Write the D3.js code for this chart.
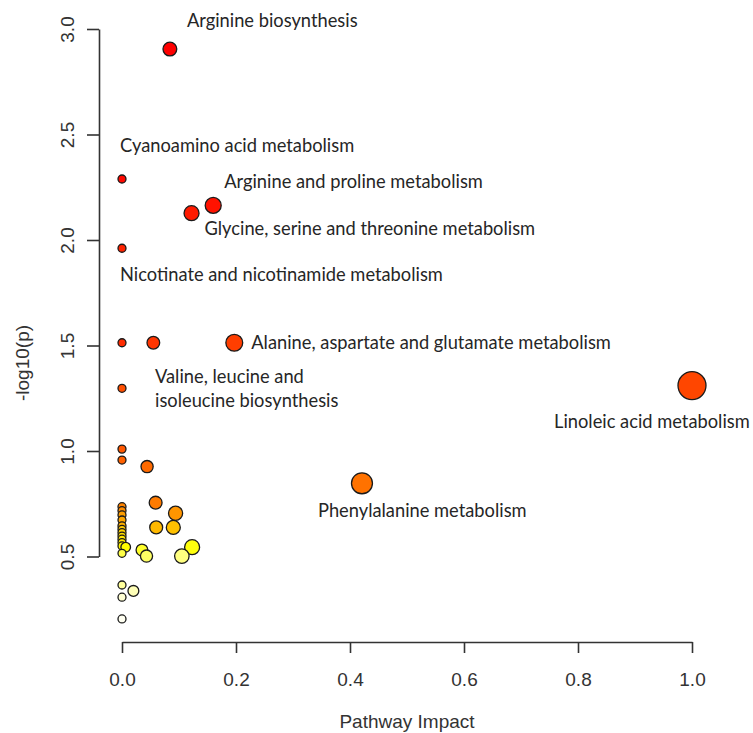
<!DOCTYPE html>
<html>
<head>
<meta charset="utf-8">
<script src="https://cdn.jsdelivr.net/npm/d3@7"></script>
<style>
  body { margin: 0; background: #fff; }
  svg { display: block; }
</style>
</head>
<body>
<div id="chart"></div>
<script>
// pathway impact vs -log10(p), one entry per pathway
var pathway = [
  "Arginine biosynthesis", "Cyanoamino acid metabolism", "Arginine and proline metabolism",
  "Glycine, serine and threonine metabolism", "Nicotinate and nicotinamide metabolism", "",
  "", "Alanine, aspartate and glutamate metabolism", "Linoleic acid metabolism",
  "Valine, leucine and isoleucine biosynthesis", "", "", "", "Phenylalanine metabolism",
  "", "", "", "", "", "", "", "", "", "", "", "", "", "", "", "", "", "", "", "", "",
  "", "", "", ""
];
var impact = [
  0.084, 0, 0.160, 0.122, 0, 0, 0.055, 0.197, 1.0, 0,
  0, 0, 0.044, 0.421, 0.059, 0, 0, 0.094, 0, 0,
  0, 0.060, 0.090, 0, 0, 0, 0, 0, 0, 0.0065,
  0.123, 0.035, 0, 0.043, 0.105, 0, 0.020, 0, 0
];
var negLogP = [
  2.905, 2.289, 2.164, 2.127, 1.961, 1.513, 1.513, 1.513, 1.31, 1.297,
  1.009, 0.957, 0.926, 0.847, 0.755, 0.736, 0.717, 0.705, 0.697, 0.673,
  0.645, 0.638, 0.638, 0.629, 0.613, 0.597, 0.582, 0.566, 0.550, 0.544,
  0.544, 0.531, 0.515, 0.502, 0.502, 0.365, 0.337, 0.307, 0.204
];
var xTicks = [0, 0.2, 0.4, 0.6, 0.8, 1.0];
var yTicks = [0.5, 1.0, 1.5, 2.0, 2.5, 3.0];

// where each label sits relative to its point (pixels)
var labelOffsets = {
  "Arginine biosynthesis": { dx: 17, dy: -22 },
  "Cyanoamino acid metabolism": { dx: -2, dy: -27 },
  "Arginine and proline metabolism": { dx: 11, dy: -17 },
  "Glycine, serine and threonine metabolism": { dx: 13, dy: 22 },
  "Nicotinate and nicotinamide metabolism": { dx: -2, dy: 33 },
  "Alanine, aspartate and glutamate metabolism": { dx: 17, dy: 6 },
  "Linoleic acid metabolism": { dx: -138, dy: 42 },
  "Valine, leucine and isoleucine biosynthesis": { dx: 33, dy: -5, lines: ["Valine, leucine and", "isoleucine biosynthesis"] },
  "Phenylalanine metabolism": { dx: -44, dy: 34 }
};

var width = 753, height = 733;

var svg = d3.select("#chart").append("svg")
  .attr("width", width)
  .attr("height", height);

var x = d3.scaleLinear().domain([0, 1]).range([122, 692]);
var y = d3.scaleLinear().domain([0.5, 3.0]).range([556.5, 29]);
var r = d3.scaleSqrt().domain([0, 1]).range([4, 14]);

// R heat.colors(n), assigned by rank of -log10(p)
function heatColors(n) {
  var k = Math.floor(n / 4), j = n - k, cols = [];
  for (var i = 0; i < j; i++) {
    cols.push(d3.hsl(60 * i / (j - 1), 1, 0.5).formatHex());
  }
  for (var m = 0; m < k; m++) {
    var s = (1 - 1 / (2 * k)) - m * ((1 - 1 / k) / (k - 1));
    cols.push(d3.rgb(255, 255, Math.round(255 * (1 - s))).formatHex());
  }
  return cols;
}

var points = negLogP.map(function (v, i) {
  return { name: pathway[i], impact: impact[i], p: v };
});
var ranked = points.slice().sort(function (a, b) { return b.p - a.p; });
var cols = heatColors(points.length);
ranked.forEach(function (d, i) { d.color = cols[i]; });

// axes
var xAxis = svg.append("g")
  .attr("transform", "translate(0,642)")
  .call(d3.axisBottom(x).tickValues(xTicks).tickSize(11).tickSizeOuter(0).tickFormat(d3.format(".1f")));
var yAxis = svg.append("g")
  .attr("transform", "translate(99,0)")
  .call(d3.axisLeft(y).tickValues(yTicks).tickSize(12).tickSizeOuter(0).tickFormat(d3.format(".1f")));

[xAxis, yAxis].forEach(function (g) {
  g.select(".domain").attr("stroke", "#333").attr("stroke-width", 1.6);
  g.selectAll(".tick line").attr("stroke", "#333").attr("stroke-width", 1.6);
  g.selectAll(".tick text")
    .style("font-family", "'Liberation Sans', Arial, sans-serif")
    .style("font-size", "19px")
    .attr("fill", "#333");
});
xAxis.selectAll(".tick text").attr("y", 0).attr("dy", 0).attr("transform", "translate(0,44)");
yAxis.selectAll(".tick text")
  .attr("x", 0).attr("dy", 0)
  .attr("text-anchor", "middle")
  .attr("transform", "translate(-25,0) rotate(-90)");

svg.append("text")
  .attr("x", 407).attr("y", 728)
  .attr("text-anchor", "middle")
  .style("font-family", "'Liberation Sans', Arial, sans-serif")
  .style("font-size", "19px")
  .attr("fill", "#333")
  .text("Pathway Impact");

svg.append("text")
  .attr("transform", "translate(29,363) rotate(-90)")
  .attr("text-anchor", "middle")
  .style("font-family", "'Liberation Sans', Arial, sans-serif")
  .style("font-size", "19px")
  .attr("fill", "#333")
  .text("-log10(p)");

// points
svg.append("g").selectAll("circle")
  .data(points)
  .enter().append("circle")
  .attr("cx", function (d) { return x(d.impact); })
  .attr("cy", function (d) { return y(d.p); })
  .attr("r", function (d) { return r(d.impact); })
  .attr("fill", function (d) { return d.color; })
  .attr("stroke", "#1a1a1a")
  .attr("stroke-width", 1.3);

// labels
var labelled = points.filter(function (d) { return d.name !== ""; });
var labels = svg.append("g")
  .style("font-family", "Lato, 'Open Sans', sans-serif")
  .style("font-size", "18.3px")
  .attr("fill", "#262626");

labelled.forEach(function (d) {
  var o = labelOffsets[d.name];
  var lines = o.lines || [d.name];
  var t = labels.append("text")
    .attr("x", x(d.impact) + o.dx)
    .attr("y", y(d.p) + o.dy);
  lines.forEach(function (line, i) {
    t.append("tspan")
      .attr("x", x(d.impact) + o.dx)
      .attr("dy", i === 0 ? 0 : 24)
      .text(line);
  });
});
</script>
</body>
</html>
